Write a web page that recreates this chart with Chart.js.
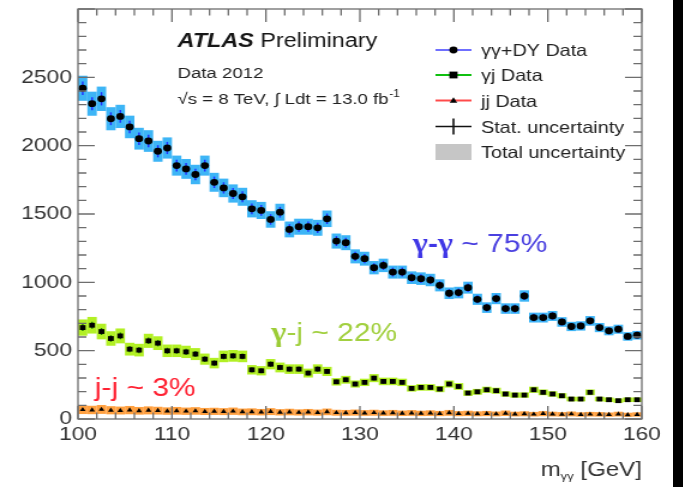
<!DOCTYPE html>
<html>
<head>
<meta charset="utf-8">
<script src="https://cdn.jsdelivr.net/npm/chart.js@4/dist/chart.umd.min.js"></script>
<style>
  html, body { margin: 0; padding: 0; background: #000; width: 683px; height: 487px; overflow: hidden; }
  #wrap { width: 673px; height: 487px; background: #fff; overflow: hidden; }
  canvas { display: block; transform: scaleX(1.19964); transform-origin: 0 0; }
</style>
</head>
<body>
<div id="wrap"><canvas id="c" width="561" height="487"></canvas></div>
<script>
// Bin centres of m_yy (1 GeV bins)
const binCenters = [
  100.5, 101.5, 102.5, 103.5, 104.5, 105.5, 106.5, 107.5, 108.5, 109.5,
  110.5, 111.5, 112.5, 113.5, 114.5, 115.5, 116.5, 117.5, 118.5, 119.5,
  120.5, 121.5, 122.5, 123.5, 124.5, 125.5, 126.5, 127.5, 128.5, 129.5,
  130.5, 131.5, 132.5, 133.5, 134.5, 135.5, 136.5, 137.5, 138.5, 139.5,
  140.5, 141.5, 142.5, 143.5, 144.5, 145.5, 146.5, 147.5, 148.5, 149.5,
  150.5, 151.5, 152.5, 153.5, 154.5, 155.5, 156.5, 157.5, 158.5, 159.5
];

// yy + DY events per bin
const yyDY = [
  2420, 2307, 2343, 2197, 2214, 2137, 2051, 2034, 1959, 1983,
  1854, 1830, 1789, 1854, 1732, 1691, 1650, 1626, 1538, 1526,
  1460, 1513, 1387, 1407, 1407, 1399, 1465, 1302, 1290, 1190,
  1173, 1107, 1124, 1075, 1075, 1034, 1027, 1017, 978, 920,
  925, 961, 876, 815, 881, 808, 808, 900, 742, 742,
  754, 710, 677, 681, 718, 669, 645, 657, 604, 613
];

// yj events per bin
const yj = [
  669, 686, 640, 589, 608, 511, 504, 572, 555, 499,
  499, 491, 475, 438, 409, 458, 462, 458, 360, 353,
  401, 377, 365, 365, 336, 365, 348, 272, 287, 256,
  268, 299, 275, 275, 268, 224, 231, 231, 219, 256,
  238, 190, 199, 214, 207, 183, 175, 175, 214, 195,
  183, 170, 146, 146, 195, 146, 141, 134, 141, 141
];

// jj events per bin
const jj = [
  68, 66, 70, 64, 62, 65, 60, 63, 61, 58,
  60, 57, 59, 55, 56, 54, 57, 52, 53, 50,
  54, 49, 51, 48, 50, 47, 52, 46, 45, 47,
  44, 46, 43, 45, 42, 44, 41, 43, 40, 45,
  39, 41, 38, 40, 37, 42, 36, 38, 35, 39,
  36, 34, 37, 33, 35, 34, 32, 36, 31, 33
];

const xTickValues = [100, 110, 120, 130, 140, 150, 160];
const yTickValues = [0, 500, 1000, 1500, 2000, 2500];

// relative systematic part of the total uncertainty band
const sysFrac = { yyDY: 0.032, yj: 0.08, jj: 0.45 };

const series = [
  { key: 'yyDY', values: yyDY, box: '#3db5f6', stat: '#1f2bff', marker: 'circle', radius: 3.4, line: '#6f6fff' },
  { key: 'yj',   values: yj,   box: '#b2f024', stat: '#1a7a00', marker: 'rect',   radius: 3.4, line: '#10c010' },
  { key: 'jj',   values: jj,   box: '#ffa040', stat: '#c03000', marker: 'triangle', radius: 2.8, line: '#ff4a4a' }
];

const SANS = '"Liberation Sans", Arial, Helvetica, sans-serif';
const SERIF = '"Liberation Serif", "Times New Roman", serif';

function drawMarker(ctx, style, x, y, r) {
  ctx.fillStyle = '#000';
  ctx.beginPath();
  if (style === 'circle') {
    ctx.arc(x, y, r, 0, Math.PI * 2);
  } else if (style === 'rect') {
    ctx.rect(x - r, y - r, 2 * r, 2 * r);
  } else {
    ctx.moveTo(x, y - r * 1.2);
    ctx.lineTo(x + r * 1.1, y + r * 0.8);
    ctx.lineTo(x - r * 1.1, y + r * 0.8);
    ctx.closePath();
  }
  ctx.fill();
}

function drawRuns(ctx, runs, x, y) {
  runs.forEach(r => {
    ctx.font = r.font;
    ctx.fillStyle = r.color;
    ctx.fillText(r.t, x, y + (r.dy || 0));
    x += ctx.measureText(r.t).width;
  });
  return x;
}

const uncertaintyPlugin = {
  id: 'uncertainties',
  beforeDraw(chart) {
    const { ctx, width, height } = chart;
    ctx.save();
    ctx.fillStyle = '#fff';
    ctx.fillRect(0, 0, width, height);
    ctx.restore();
  },
  beforeDatasetsDraw(chart) {
    const { ctx, scales: { x, y } } = chart;
    ctx.save();
    // total uncertainty boxes, one bin wide
    series.forEach(s => {
      ctx.fillStyle = s.box;
      s.values.forEach((v, i) => {
        const c = binCenters[i];
        const x0 = x.getPixelForValue(c - 0.5);
        const x1 = x.getPixelForValue(c + 0.5);
        const e = Math.sqrt(v + Math.pow(sysFrac[s.key] * v, 2));
        const top = y.getPixelForValue(v + e);
        const bot = y.getPixelForValue(Math.max(0, v - e));
        ctx.fillRect(x0, top, x1 - x0, bot - top);
      });
    });
    // statistical error bars
    series.forEach(s => {
      ctx.strokeStyle = s.stat;
      ctx.lineWidth = 1.4;
      s.values.forEach((v, i) => {
        const px = x.getPixelForValue(binCenters[i]);
        const e = Math.sqrt(v);
        ctx.beginPath();
        ctx.moveTo(px, y.getPixelForValue(v + e));
        ctx.lineTo(px, y.getPixelForValue(v - e));
        ctx.stroke();
      });
    });
    ctx.restore();
  },
  afterDraw(chart) {
    const { ctx, chartArea: a, scales: { x, y } } = chart;
    ctx.save();
    // frame with inward ticks on all four sides
    ctx.strokeStyle = '#6e6e6e';
    ctx.lineWidth = 1.3;
    ctx.strokeRect(a.left, a.top, a.right - a.left, a.bottom - a.top);
    ctx.beginPath();
    for (let v = 0; v <= 3000; v += 100) {
      const py = y.getPixelForValue(v);
      const len = v % 500 === 0 ? 14 : 7;
      ctx.moveTo(a.left, py); ctx.lineTo(a.left + len, py);
      ctx.moveTo(a.right, py); ctx.lineTo(a.right - len, py);
    }
    for (let v = 100; v <= 160; v += 2) {
      const px = x.getPixelForValue(v);
      const len = v % 10 === 0 ? 13 : 6.5;
      ctx.moveTo(px, a.bottom); ctx.lineTo(px, a.bottom - len);
      ctx.moveTo(px, a.top); ctx.lineTo(px, a.top + len);
    }
    ctx.stroke();

    ctx.textBaseline = 'alphabetic';
    ctx.textAlign = 'left';

    // experiment label
    drawRuns(ctx, [
      { t: 'ATLAS', font: `italic bold 19.5px ${SANS}`, color: '#161616' },
      { t: ' Preliminary', font: `19.5px ${SANS}`, color: '#161616' }
    ], 148, 47);
    drawRuns(ctx, [{ t: 'Data 2012', font: `15.5px ${SANS}`, color: '#222' }], 148, 78);
    let xe = drawRuns(ctx, [{ t: '\u221As = 8 TeV, \u222B Ldt = 13.0 fb', font: `15.5px ${SANS}`, color: '#222' }], 148, 104);
    drawRuns(ctx, [{ t: '-1', font: `10px ${SANS}`, color: '#222', dy: -7 }], xe + 0.5, 104);

    // legend
    const lx0 = 363, lx1 = 393, lxm = 378, ltx = 401;
    const rows = [50, 75, 100.5, 126.5, 152];
    const labels = ['\u03B3\u03B3+DY Data', '\u03B3j Data', 'jj Data'];
    series.forEach((s, i) => {
      const ry = rows[i];
      ctx.strokeStyle = s.line;
      ctx.lineWidth = 2;
      ctx.beginPath(); ctx.moveTo(lx0, ry); ctx.lineTo(lx1, ry); ctx.stroke();
      drawMarker(ctx, s.marker, lxm, ry, s.radius);
      drawRuns(ctx, [{ t: labels[i], font: `16.5px ${SANS}`, color: '#222' }], ltx, ry + 6);
    });
    ctx.strokeStyle = '#111';
    ctx.lineWidth = 1.6;
    ctx.beginPath();
    ctx.moveTo(lx0, rows[3]); ctx.lineTo(lx1, rows[3]);
    ctx.moveTo(lxm, rows[3] - 8); ctx.lineTo(lxm, rows[3] + 8);
    ctx.stroke();
    drawRuns(ctx, [{ t: 'Stat. uncertainty', font: `16.5px ${SANS}`, color: '#222' }], ltx, rows[3] + 6);
    ctx.fillStyle = '#c6c6c6';
    ctx.fillRect(lx0, rows[4] - 8, lx1 - lx0, 16);
    drawRuns(ctx, [{ t: 'Total uncertainty', font: `16.5px ${SANS}`, color: '#222' }], ltx, rows[4] + 6);

    // process fractions
    const big = `25px ${SANS}`;
    const gam = `bold 27px ${SERIF}`;
    drawRuns(ctx, [
      { t: '\u03B3', font: gam, color: '#3f36e6' },
      { t: '-', font: `bold 25px ${SANS}`, color: '#3f36e6' },
      { t: '\u03B3', font: gam, color: '#3f36e6' },
      { t: ' ~ 75%', font: big, color: '#4a40e0' }
    ], 344, 252);
    drawRuns(ctx, [
      { t: '\u03B3', font: gam, color: '#9ccc36' },
      { t: '-j ~ 22%', font: big, color: '#a2d040' }
    ], 226, 341);
    drawRuns(ctx, [
      { t: 'j-j ~ 3%', font: big, color: '#ff2233' }
    ], 79, 396);

    // x-axis title, right aligned with the frame
    ctx.font = `20px ${SANS}`;
    const wM = ctx.measureText('m').width;
    const wG = ctx.measureText(' [GeV]').width;
    ctx.font = `11px ${SANS}`;
    const wS = ctx.measureText('\u03B3\u03B3').width;
    const tx = a.right - (wM + wS + wG);
    drawRuns(ctx, [
      { t: 'm', font: `20px ${SANS}`, color: '#333' },
      { t: '\u03B3\u03B3', font: `11px ${SANS}`, color: '#333', dy: 4 },
      { t: ' [GeV]', font: `20px ${SANS}`, color: '#333' }
    ], tx, 476);
    ctx.restore();
  }
};

const datasets = series.map((s, k) => ({
  label: ['\u03B3\u03B3+DY Data', '\u03B3j Data', 'jj Data'][k],
  data: s.values.map((v, i) => ({ x: binCenters[i], y: v })),
  showLine: false,
  pointStyle: s.marker,
  pointRadius: s.radius,
  pointHoverRadius: s.radius,
  pointBackgroundColor: '#000',
  pointBorderColor: '#000',
  pointBorderWidth: 0
}));

function fixBox(size) {
  return s => {
    if (size.height !== undefined) s.height = size.height;
    if (size.width !== undefined) s.width = size.width;
    s.paddingTop = 0; s.paddingBottom = 0; s.paddingLeft = 0; s.paddingRight = 0;
  };
}

new Chart(document.getElementById('c'), {
  type: 'scatter',
  data: { datasets },
  options: {
    responsive: false,
    animation: false,
    devicePixelRatio: 1,
    layout: { padding: { top: 9, right: 26, left: 0, bottom: 0 } },
    plugins: { legend: { display: false }, tooltip: { enabled: false } },
    scales: {
      x: {
        type: 'linear', min: 100, max: 160,
        afterFit: fixBox({ height: 68 }),
        afterBuildTicks: s => { s.ticks = xTickValues.map(v => ({ value: v })); },
        grid: { display: false, drawTicks: false },
        border: { display: false },
        ticks: { autoSkip: false, maxRotation: 0, padding: 4, color: '#333', font: { family: SANS, size: 19 },
                 callback: v => String(v) }
      },
      y: {
        type: 'linear', min: 0, max: 3000,
        afterFit: fixBox({ width: 65 }),
        afterBuildTicks: s => { s.ticks = yTickValues.map(v => ({ value: v })); },
        grid: { display: false, drawTicks: false },
        border: { display: false },
        ticks: { autoSkip: false, padding: 5, color: '#333', font: { family: SANS, size: 19 },
                 callback: v => String(v) }
      }
    }
  },
  plugins: [uncertaintyPlugin]
});
</script>
</body>
</html>
